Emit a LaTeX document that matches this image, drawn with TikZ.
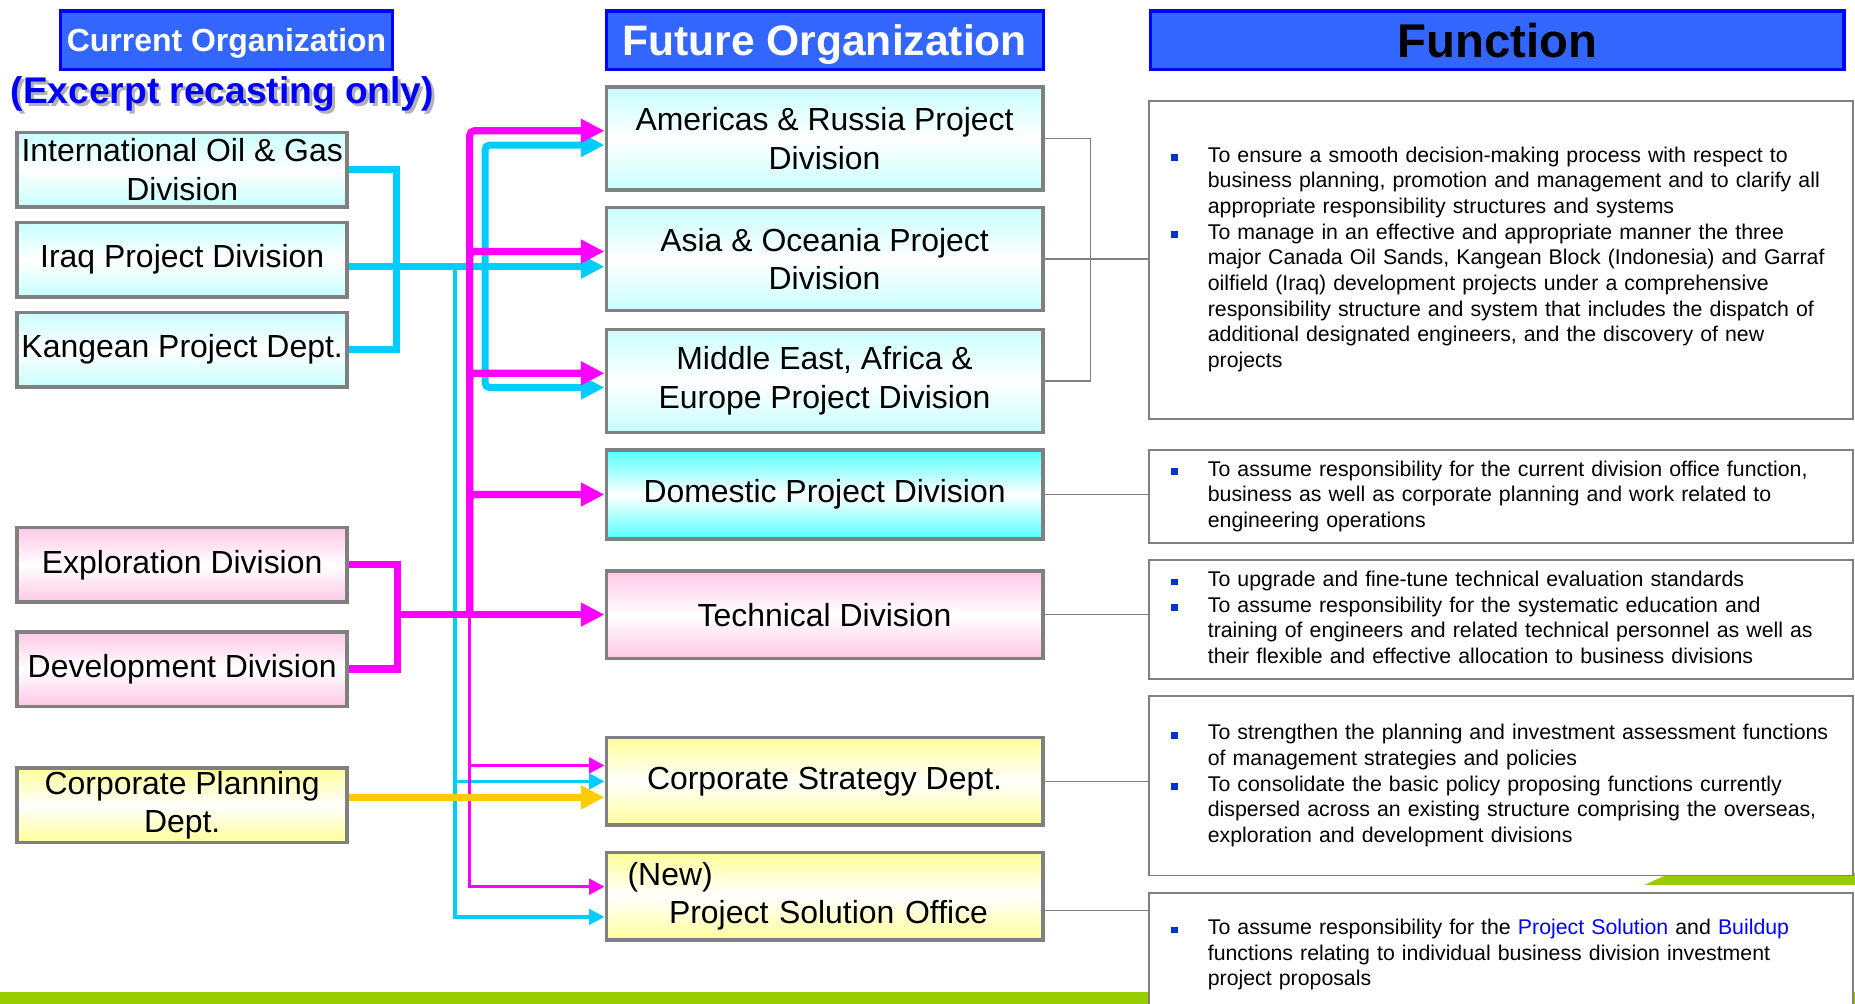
\documentclass[tikz,border=0pt]{standalone}
\usepackage{fontspec}
\setmainfont{Liberation Sans}
\usetikzlibrary{arrows.meta, positioning}

\definecolor{headblue}{HTML}{3366FF}
\definecolor{rimblue}{HTML}{0000FF}
\definecolor{linecyan}{HTML}{00CCFF}
\definecolor{linemag}{HTML}{FF00FF}
\definecolor{lineorange}{HTML}{FFCC00}
\definecolor{rimgray}{HTML}{808080}
\definecolor{bargreen}{HTML}{99CC00}
\definecolor{bulblue}{HTML}{0033CC}
\definecolor{palecyan}{HTML}{C8FFFF}
\definecolor{deepcyan}{HTML}{55FFFF}
\definecolor{palepink}{HTML}{FFC8E6}
\definecolor{paleyellow}{HTML}{FFFF99}

\newcommand{\boxfont}{\fontsize{13.5}{16.3}\selectfont}
\newcommand{\fnfont}{\fontsize{9}{10.85}\selectfont}
\newcommand{\fbul}{\textcolor{bulblue}{\raisebox{0.4pt}{\rule{2.9pt}{2.9pt}}}}
\newcommand{\shadowed}[1]{\makebox[0pt][l]{\hspace{1.2pt}\raisebox{-1.2pt}{\textcolor{black!30}{#1}}}#1}

\begin{document}
\begin{tikzpicture}[
  x=0.5pt, y=-0.5pt,
  headbox/.style={draw=rimblue, fill=headblue, line width=1.3pt, text=white, minimum height=24.7pt, inner sep=0pt, text depth=0pt},
  orgbox/.style={draw=rimgray, line width=1.5pt, minimum width=139.5pt, minimum height=31.5pt, align=center, font=\boxfont, inner sep=1pt},
  newbox/.style={draw=rimgray, line width=1.5pt, minimum width=184.5pt, minimum height=37pt, align=center, font=\boxfont, inner sep=1pt},
  fnbox/.style={draw=rimgray, line width=0.8pt, fill=white, text width=278.5pt, inner xsep=9.5pt, align=left, font=\fnfont},
  cyanfill/.style={top color=palecyan, bottom color=palecyan, middle color=white},
  deepfill/.style={top color=deepcyan, bottom color=deepcyan, middle color=white},
  pinkfill/.style={top color=palepink, bottom color=palepink, middle color=white},
  yellowfill/.style={top color=paleyellow, bottom color=paleyellow, middle color=white},
  cyanline/.style={draw=linecyan, line width=3pt},
  cyanthin/.style={draw=linecyan, line width=1.5pt},
  magline/.style={draw=linemag, line width=3pt},
  magthin/.style={draw=linemag, line width=1.5pt},
  orangeline/.style={draw=lineorange, line width=3.2pt},
  greyline/.style={draw=rimgray, line width=0.6pt},
  fattip/.style={-{Triangle[length=10pt, width=9.5pt]}},
  thintip/.style={-{Triangle[length=6.5pt, width=6.5pt]}}
]
\clip (0,0) rectangle (1568,848);
\fill[white] (0,0) rectangle (1568,848);

% Slide decoration
\fill[bargreen] (0,838.6) rectangle (1568,860);
\fill[bargreen] (1390,748) -- (1412,738) -- (1568,738) -- (1568,748) -- cycle;

% Column heads
\node[headbox, minimum width=140.2pt, text height=9.7pt, font=\bfseries\fontsize{13.5}{16}\selectfont] (CurHead) at (191.5,34) {Current Organization};
\node[font=\bfseries\fontsize{15.7}{18}\selectfont, text=rimblue] (Excerpt) at (188,81) {\shadowed{(Excerpt recasting only)}};
\node[headbox, minimum width=184.7pt, text height=12.9pt, font=\bfseries\fontsize{18}{21}\selectfont] (FutHead) at (697,34) {Future Organization};
\node[headbox, minimum width=293.2pt, text height=14.3pt, text=black, font=\bfseries\fontsize{20}{24}\selectfont] (FnHead) at (1265.5,34) {Function};

% Current organization
\node[orgbox, cyanfill] (IntlOG) at (154,143.5) {International Oil \& Gas\\Division};
\node[orgbox, cyanfill, below=5pt of IntlOG] (Iraq) {Iraq Project Division};
\node[orgbox, cyanfill, below=5pt of Iraq] (Kangean) {Kangean Project Dept.};
\node[orgbox, pinkfill, below=58pt of Kangean] (Explor) {Exploration Division};
\node[orgbox, pinkfill, below=11pt of Explor] (Develop) {Development Division};
\node[orgbox, yellowfill, below=24.5pt of Develop] (CorpPlan) {Corporate Planning\\Dept.};

% Future organization
\node[newbox, cyanfill, minimum height=43.5pt] (Americas) at (697,117) {Americas \& Russia Project\\Division};
\node[newbox, cyanfill, minimum height=43.5pt, below=6pt of Americas] (AsiaOce) {Asia \& Oceania Project\\Division};
\node[newbox, cyanfill, minimum height=43.5pt, below=6.5pt of AsiaOce] (MEAE) {Middle East, Africa \&\\Europe Project Division};
\node[newbox, deepfill, minimum height=37.5pt, below=6pt of MEAE] (Domestic) {Domestic Project Division};
\node[newbox, pinkfill, below=12pt of Domestic] (Technical) {Technical Division};
\node[newbox, yellowfill, below=32pt of Technical] (CorpStrat) {Corporate Strategy Dept.};
\node[newbox, yellowfill, below=10pt of CorpStrat, align=left, text width=166.5pt, inner xsep=9pt] (PSO) {(New)\\\hspace*{17.5pt}Project Solution Office};

% Functions
\node[fnbox, minimum height=134.5pt] (FnProj) at (1268.5,219.5) {%
\begin{tabular}{@{}p{15.5pt}@{}l@{}}
\fbul & To ensure a smooth decision-making process with respect to\\
 & business planning, promotion and management and to clarify all\\
 & appropriate responsibility structures and systems\\
\fbul & To manage in an effective and appropriate manner the three\\
 & major Canada Oil Sands, Kangean Block (Indonesia) and Garraf\\
 & oilfield (Iraq) development projects under a comprehensive\\
 & responsibility structure and system that includes the dispatch of\\
 & additional designated engineers, and the discovery of new\\
 & projects
\end{tabular}};
\node[fnbox, minimum height=37.7pt, below=12.5pt of FnProj] (FnDom) {%
\begin{tabular}{@{}p{15.5pt}@{}l@{}}
\fbul & To assume responsibility for the current division office function,\\
 & business as well as corporate planning and work related to\\
 & engineering operations
\end{tabular}};
\node[fnbox, minimum height=50.2pt, below=6.5pt of FnDom] (FnTech) {%
\begin{tabular}{@{}p{15.5pt}@{}l@{}}
\fbul & To upgrade and fine-tune technical evaluation standards\\
\fbul & To assume responsibility for the systematic education and\\
 & training of engineers and related technical personnel as well as\\
 & their flexible and effective allocation to business divisions
\end{tabular}};
\node[fnbox, minimum height=75.7pt, below=6.5pt of FnTech] (FnStrat) {%
\begin{tabular}{@{}p{15.5pt}@{}l@{}}
\fbul & To strengthen the planning and investment assessment functions\\
 & of management strategies and policies\\
\fbul & To consolidate the basic policy proposing functions currently\\
 & dispersed across an existing structure comprising the overseas,\\
 & exploration and development divisions
\end{tabular}};
\node[fnbox, minimum height=52.5pt, below=6.5pt of FnStrat] (FnPSO) {%
\begin{tabular}{@{}p{15.5pt}@{}l@{}}
\fbul & To assume responsibility for the \textcolor{rimblue}{Project Solution} and \textcolor{rimblue}{Buildup}\\
 & functions relating to individual business division investment\\
 & project proposals
\end{tabular}};

% Cyan: overseas divisions
\coordinate (cyanbus) at (410,225.4);
\coordinate (cyanside) at (384.6,225.4);
\draw[cyanline] (IntlOG.east) -- ++(40,0) |- (Kangean.east);
\draw[cyanline, fattip] (Iraq.east |- cyanbus) -- (cyanbus -| AsiaOce.west);
\draw[cyanline, fattip, rounded corners=2pt] (cyanbus) |- ([yshift=-2.8pt]Americas.west);
\draw[cyanline, fattip, rounded corners=2pt] (cyanbus) |- ([yshift=-2.8pt]MEAE.west);
\draw[cyanthin, thintip] (cyanside) |- (CorpStrat.west);
\draw[cyanthin, thintip] (cyanside) |- ([yshift=-8.75pt]PSO.west);

% Magenta: exploration and development
\coordinate (magfork) at (335.6,519.5);
\coordinate (magbus) at (397,519.5);
\draw[magline] (Explor.east) -- ++(41,0) |- (Develop.east);
\draw[magline, fattip] (Technical.west -| magfork) -- (Technical.west);
\foreach \dest/\shift in {Americas/3.25pt, AsiaOce/3.2pt, MEAE/3.25pt, Domestic/0pt}
  \draw[magline, fattip, rounded corners=2pt] (magbus) |- ([yshift=\shift]\dest.west);
\draw[magthin, thintip] (magbus) |- ([yshift=6.75pt]CorpStrat.west);
\draw[magthin, thintip] (magbus) |- ([yshift=4pt]PSO.west);

% Orange: corporate planning
\draw[orangeline, fattip] ([yshift=3.25pt]CorpPlan.east) -- ([yshift=3.25pt]CorpPlan.east -| CorpStrat.west);

% Grey: future organization to function
\draw[greyline] (Americas.east) -- ++(39,0) |- (MEAE.east);
\draw[greyline] (AsiaOce.east) -- (AsiaOce.east -| FnProj.west);
\draw[greyline] (Domestic.east) -- (Domestic.east -| FnDom.west);
\draw[greyline] (Technical.east) -- (Technical.east -| FnTech.west);
\draw[greyline] (CorpStrat.east) -- (CorpStrat.east -| FnStrat.west);
\draw[greyline] ([yshift=-6pt]PSO.east) -- ([yshift=-6pt]PSO.east -| FnPSO.west);

\end{tikzpicture}
\end{document}
